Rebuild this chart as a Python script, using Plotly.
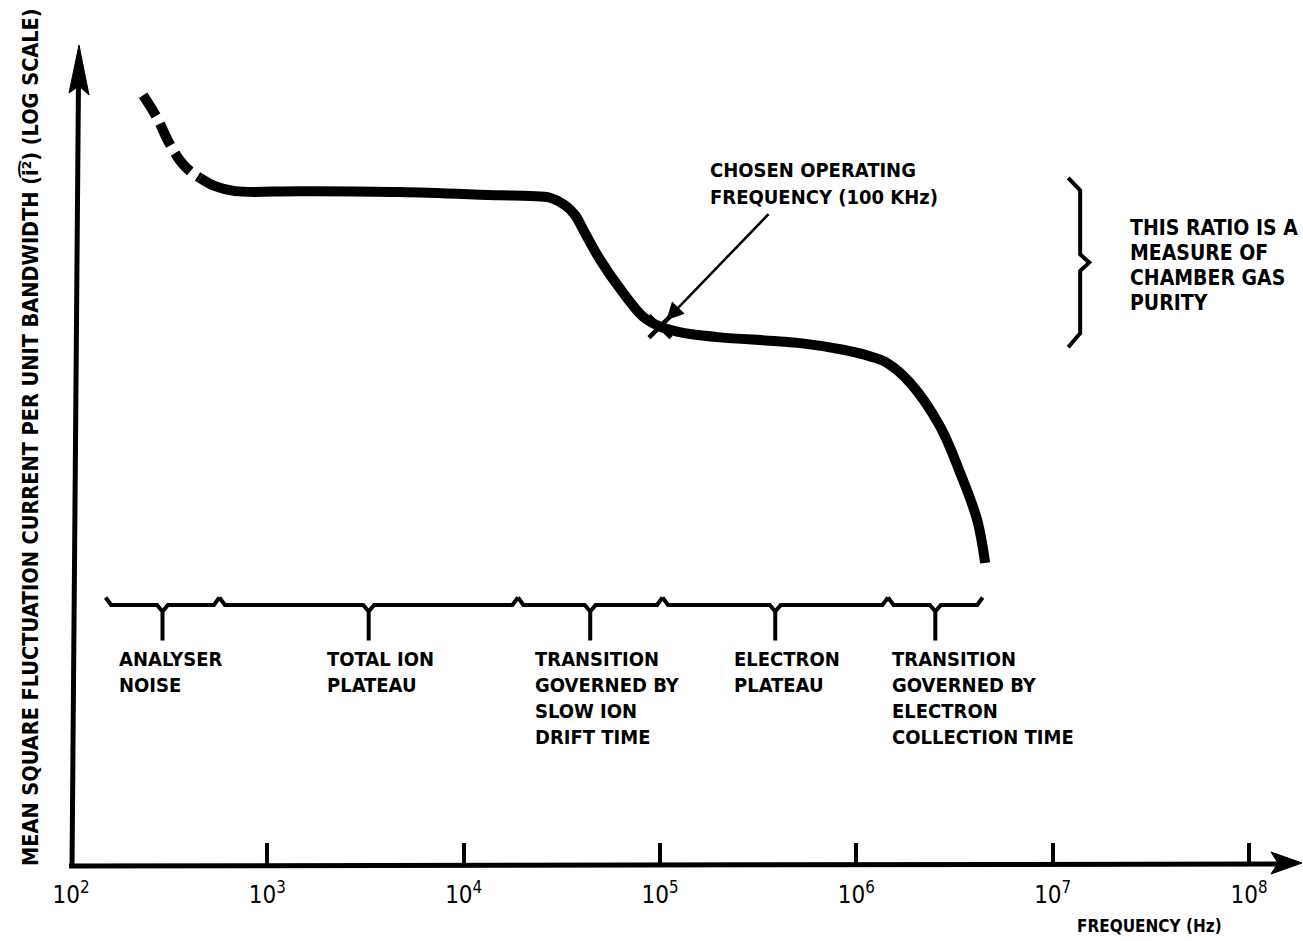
import numpy as np
import plotly.graph_objects as go

# ---------------------------------------------------------------- data ----
# Frequency in Hz, noise level in arbitrary units of the logarithmic ordinate
noise_freq = [233, 274, 312, 359, 405, 454]
noise_level = [93.3, 90.6, 87.8, 85.4, 84.1, 83.3]

spectrum_freq = [454, 542, 684, 1470, 4740, 15320, 21790, 27550, 32860, 36940,
                 41540, 49530, 64860, 82020, 100100, 122200, 142300, 202400,
                 517300, 856600, 1176000, 1435000, 1880000, 2673000, 3379000,
                 4125000, 4530000]
spectrum_level = [83.3, 82.3, 81.7, 81.7, 81.6, 81.2, 81.1, 80.9, 80.0, 78.8,
                  76.6, 73.4, 69.4, 66.5, 65.3, 64.7, 64.4, 64.0,
                  63.3, 62.5, 61.7, 60.9, 58.5, 53.2, 47.6,
                  41.9, 36.7]

operating_freq = 100e3
operating_level = 65.3

ion_plateau_level = 81.7
electron_plateau_level = 63.3

region_edges = [150, 570, 18900, 103000, 1450000, 4400000]
region_labels = [
    "ANALYSER<br>NOISE",
    "TOTAL ION<br>PLATEAU",
    "TRANSITION<br>GOVERNED BY<br>SLOW ION<br>DRIFT TIME",
    "ELECTRON<br>PLATEAU",
    "TRANSITION<br>GOVERNED BY<br>ELECTRON<br>COLLECTION TIME",
]

decades = [1e2, 1e3, 1e4, 1e5, 1e6, 1e7, 1e8]
decade_text = ["10<sup>2</sup>", "10<sup>3</sup>", "10<sup>4</sup>", "10<sup>5</sup>",
               "10<sup>6</sup>", "10<sup>7</sup>", "10<sup>8</sup>"]

# ------------------------------------------------------------ styling -----
FONT = "DejaVu Sans Condensed"
INK = "black"
PLOT_L, PLOT_T, PLOT_W, PLOT_H = 71, 40, 1231, 826
X_RANGE = [2, 8.27]


def paper_x(px):
    return (px - PLOT_L) / PLOT_W


def paper_y(py):
    return (PLOT_T + PLOT_H - py) / PLOT_H


def shift(f, dec):
    """Move a frequency by a number of decades."""
    return f * 10 ** dec


fig = go.Figure()


def add_line(x, y, width, **kw):
    fig.add_trace(go.Scatter(x=x, y=y, mode="lines", cliponaxis=False,
                             hoverinfo="skip",
                             line=dict(color=INK, width=width, **kw)))


def paper_path(points):
    d = "M " + " L ".join(f"{paper_x(px):.5f},{paper_y(py):.5f}" for px, py in points) + " Z"
    fig.add_shape(type="path", path=d, xref="paper", yref="paper",
                  fillcolor=INK, line=dict(color=INK, width=1), layer="above")


def paper_segment(p0, p1, width):
    fig.add_shape(type="line", xref="paper", yref="paper",
                  x0=paper_x(p0[0]), y0=paper_y(p0[1]),
                  x1=paper_x(p1[0]), y1=paper_y(p1[1]),
                  line=dict(color=INK, width=width), layer="above")


# axes drawn as arrows
paper_segment((69, 866), (1282, 864), 5)
paper_path([(1302, 863), (1271, 852), (1278, 863), (1271, 874)])
paper_segment((72, 868), (78.5, 80), 5)
paper_path([(79, 45), (89, 95), (79, 86), (69, 93)])

# noise spectrum: uncertain low-frequency part dashed, rest solid
add_line(noise_freq, noise_level, 10, dash="24px,9px", shape="spline")
add_line(spectrum_freq, spectrum_level, 10, shape="spline")

# chosen operating point
fig.add_trace(go.Scatter(x=[operating_freq], y=[operating_level], mode="markers",
                         cliponaxis=False, hoverinfo="skip",
                         marker=dict(symbol="x-thin", size=22,
                                     line=dict(width=4.5, color=INK))))

# braces marking the frequency regions
yb, y_stem, y_cap = 31.6, 27.3, 32.5
arm = 0.028
for lo, hi in zip(region_edges[:-1], region_edges[1:]):
    mid = np.sqrt(lo * hi)
    xs = [lo, shift(lo, arm), shift(mid, -arm), mid, mid, mid, shift(mid, arm),
          shift(hi, -arm), hi]
    ys = [y_cap, yb, yb, yb - 0.8, y_stem, yb - 0.8, yb, yb, y_cap]
    add_line(xs, ys, 4)

# curly brace showing the plateau ratio
bx = 1.2e7
b_top = ion_plateau_level + 1.6
b_bot = electron_plateau_level - 0.5
b_mid = (b_top + b_bot) / 2
add_line([bx, shift(bx, 0.061), shift(bx, 0.061), shift(bx, 0.107), shift(bx, 0.061),
          shift(bx, 0.061), bx],
         [b_top, b_top - 1.5, b_mid + 1.0, b_mid, b_mid - 1.0, b_bot + 1.7, b_bot], 4)


# ------------------------------------------------------------ text --------
def text(px, py, s, size=20, xanchor="left", yanchor="middle", angle=0):
    fig.add_annotation(x=paper_x(px), y=paper_y(py), xref="paper", yref="paper",
                       text=s, showarrow=False, xanchor=xanchor, yanchor=yanchor,
                       align="left", textangle=angle,
                       font=dict(family=FONT, size=size, color=INK, weight="bold"))


def text_block(px, py, s, spacing, size=20):
    for i, line in enumerate(s.split("<br>")):
        text(px, py + i * spacing, line, size=size)


label_left = [117, 325, 533, 732, 890]
for lx, lab in zip(label_left, region_labels):
    text_block(lx, 659, lab, 26)

text_block(708, 170, "CHOSEN OPERATING<br>FREQUENCY (100 KHz)", 27)
text_block(1128, 228, "THIS RATIO IS A<br>MEASURE OF<br>CHAMBER GAS<br>PURITY", 25, size=21)
text(1075, 926, "FREQUENCY (Hz)", size=17)
text(30, 437, "MEAN SQUARE FLUCTUATION CURRENT PER UNIT BANDWIDTH (i\u0361\u00b2) (LOG SCALE)",
     size=21.5, xanchor="center", angle=-90)

fig.add_annotation(x=np.log10(operating_freq), y=operating_level, xref="x", yref="y",
                   ax=110, ay=-114, showarrow=True, arrowhead=2, arrowsize=1.4,
                   arrowwidth=2.5, arrowcolor=INK, standoff=9, text="")

fig.update_layout(
    width=1303, height=941,
    margin=dict(l=PLOT_L, r=1303 - PLOT_L - PLOT_W, t=PLOT_T, b=941 - PLOT_T - PLOT_H),
    paper_bgcolor="white", plot_bgcolor="white",
    showlegend=False,
    xaxis=dict(type="log", range=X_RANGE, tickvals=decades, ticktext=decade_text,
               ticks="inside", ticklen=23, tickwidth=4, tickcolor=INK,
               ticklabelstandoff=12,
               showgrid=False, zeroline=False, showline=False,
               tickfont=dict(family=FONT, size=24, color=INK)),
    yaxis=dict(range=[0, 100], visible=False),
)

fig.write_html("out.html")
